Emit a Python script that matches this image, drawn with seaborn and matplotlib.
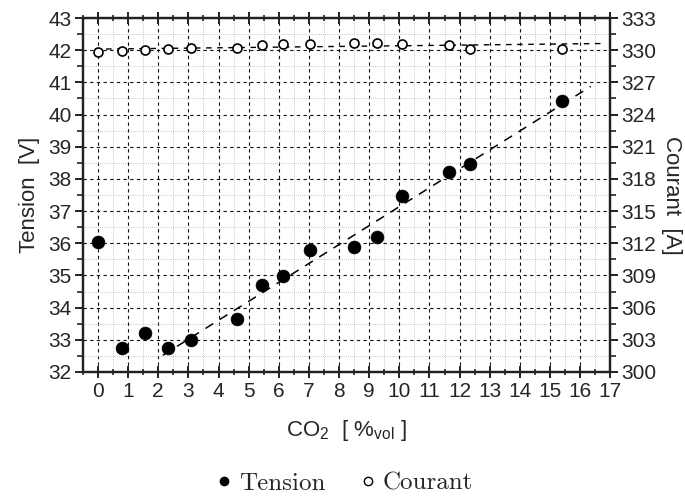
import matplotlib
matplotlib.use("Agg")
import matplotlib.pyplot as plt
from matplotlib.lines import Line2D
from matplotlib.ticker import MultipleLocator
import seaborn as sns
import numpy as np
import pandas as pd

# CO2 content [%vol]
co2 = [0.0, 0.8, 1.55, 2.33, 3.09, 4.62, 5.45, 6.15, 7.04, 8.5, 9.27, 10.1, 11.66, 12.36, 15.41]
# Tension [V]
tension = [36.04, 32.75, 33.22, 32.75, 33.0, 33.65, 34.71, 34.99, 35.8, 35.87, 36.2, 37.46, 38.2, 38.47, 40.42]
# Courant [A]
courant = [329.8, 329.9, 330.0, 330.1, 330.2, 330.2, 330.5, 330.6, 330.6, 330.7, 330.7, 330.6, 330.5, 330.1, 330.1]

# linear fits (tension fit uses points from 2.3 %vol on)
tension_fit_from = 2.3
tension_fit_range = [2.15, 16.35]
courant_fit_range = [-0.1, 16.8]

df = pd.DataFrame({"co2": co2, "tension": tension, "courant": courant})

sns.set_style("white")
plt.rcParams["font.family"] = ["Liberation Sans", "DejaVu Sans"]
plt.rcParams["mathtext.fontset"] = "custom"
plt.rcParams["mathtext.rm"] = "Liberation Sans"

fig = plt.figure(figsize=(6.85, 5.01), dpi=100)
ax = fig.add_axes([0.121, 0.2575, 0.770, 0.7065])
ax2 = ax.twinx()

# grid
ax.xaxis.set_major_locator(MultipleLocator(1))
ax.xaxis.set_minor_locator(MultipleLocator(0.5))
ax.yaxis.set_major_locator(MultipleLocator(1))
ax.yaxis.set_minor_locator(MultipleLocator(0.5))
ax.grid(which="major", color="#111111", linestyle=(0, (3, 3)), linewidth=0.8)
ax.grid(which="minor", color="#b5b5b5", linestyle=(0, (1, 1.5)), linewidth=0.6)
ax.set_axisbelow(True)

# data
sns.scatterplot(data=df, x="co2", y="tension", ax=ax, color="black", s=85,
                edgecolor="black", linewidth=0.5, zorder=3)
sns.scatterplot(data=df, x="co2", y="courant", ax=ax2, facecolor="white", s=42,
                edgecolor="black", linewidth=1.2, zorder=3)

sub = df[df["co2"] >= tension_fit_from]
p_t = np.polyfit(sub["co2"], sub["tension"], 1)
xt = np.array(tension_fit_range)
ax.plot(xt, np.polyval(p_t, xt), color="black", linestyle=(0, (6, 5)), linewidth=1.1, zorder=2)

p_c = np.polyfit(df["co2"], df["courant"], 1)
xc = np.array(courant_fit_range)
ax2.plot(xc, np.polyval(p_c, xc), color="black", linestyle=(0, (4, 4)), linewidth=1.0, zorder=2)

ax.set_xlim(-0.5, 17)
ax.set_ylim(32, 43)
ax2.set_ylim(300, 333)
ax2.yaxis.set_major_locator(MultipleLocator(3))
ax2.yaxis.set_minor_locator(MultipleLocator(1.5))
ax2.set_xlim(-0.5, 17)

for a in (ax, ax2):
    for s in a.spines.values():
        s.set_linewidth(1.6)
        s.set_color("#222222")

ax.tick_params(axis="x", which="both", bottom=True, top=True, direction="inout", labelsize=15, color="#222222")
ax.tick_params(axis="x", which="major", length=8, width=1.4)
ax.tick_params(axis="x", which="minor", length=5, width=1.2)
ax.tick_params(axis="y", which="both", left=True, direction="out", labelsize=15, color="#222222")
ax.tick_params(axis="y", which="major", length=6, width=1.4, pad=2)
ax.tick_params(axis="y", which="minor", length=4, width=1.2)
ax2.tick_params(axis="y", which="both", right=True, direction="out", labelsize=15, color="#222222")
ax2.tick_params(axis="y", which="major", length=6, width=1.4, pad=2)
ax2.tick_params(axis="y", which="minor", length=4, width=1.2)

ax.set_xlabel(r"CO$_\mathrm{2}$  [ %$_\mathrm{vol}$ ]", fontsize=16, labelpad=12)
ax.set_ylabel("Tension  [V]", fontsize=16, labelpad=6)
ax2.set_ylabel("Courant  [A]", fontsize=16, rotation=270, labelpad=18)

handles = [
    Line2D([], [], marker="o", linestyle="none", markersize=6, markerfacecolor="black", markeredgecolor="black"),
    Line2D([], [], marker="o", linestyle="none", markersize=6, markerfacecolor="white", markeredgecolor="black", markeredgewidth=1.0),
]
fig.legend(handles, ["Tension", "Courant"], loc="center", bbox_to_anchor=(0.5, 0.035), ncol=2,
           frameon=False, prop={"family": "cmr10", "size": 18}, handletextpad=0.1, columnspacing=1.2,
           handlelength=1.0)

fig.savefig("out.png", dpi=100)
